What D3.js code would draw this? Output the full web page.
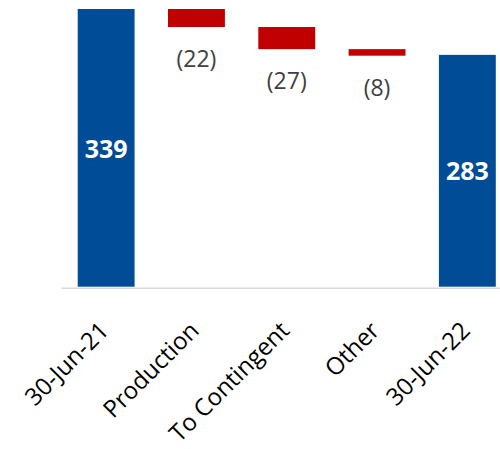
<!DOCTYPE html>
<html>
<head>
<meta charset="utf-8">
<script src="https://cdn.jsdelivr.net/npm/d3@7"></script>
<style>
  html, body { margin: 0; padding: 0; background: #fff; }
  svg { display: block; font-family: "Open Sans", "Noto Sans", sans-serif; }
</style>
</head>
<body>
<svg id="chart" width="500" height="449"></svg>
<script>
// Waterfall: opening balance, movements, closing balance
const categories = ["30-Jun-21", "Production", "To Contingent", "Other", "30-Jun-22"];
const values = [339, -22, -27, -8, 283];
const kinds = ["total", "delta", "delta", "delta", "total"];

const svg = d3.select("#chart");

const x = d3.scaleBand()
  .domain(categories)
  .range([61, 512.5])
  .paddingInner(0.37)
  .paddingOuter(0.185);

const y = d3.scaleLinear()
  .domain([0, 339])
  .range([286.7, 9]);

// Running totals for each step
let running = 0;
const bars = categories.map((c, i) => {
  let lo, hi;
  if (kinds[i] === "total") {
    running = values[i];
    lo = 0; hi = values[i];
  } else {
    const start = running;
    running = start + values[i];
    lo = Math.min(start, running); hi = Math.max(start, running);
  }
  return { cat: c, value: values[i], kind: kinds[i], lo, hi };
});

svg.selectAll("rect.bar")
  .data(bars)
  .join("rect")
  .attr("class", "bar")
  .attr("x", d => x(d.cat))
  .attr("width", x.bandwidth())
  .attr("y", d => y(d.hi))
  .attr("height", d => y(d.lo) - y(d.hi))
  .attr("fill", d => d.kind === "total" ? "#004C97" : "#C00000");

// Baseline axis
const axisG = svg.append("g").attr("transform", `translate(0,${y(0) + 1})`);
axisG.call(d3.axisBottom(x).tickSize(0).tickFormat(""));
axisG.select(".domain").attr("stroke", "#d9d9d9").attr("stroke-width", 1.6);

// Category labels, rotated
svg.selectAll("text.cat")
  .data(categories)
  .join("text")
  .attr("class", "cat")
  .attr("transform", c => `translate(${x(c) + x.bandwidth() / 2 + 4},${332}) rotate(-45)`)
  .attr("text-anchor", "end")
  .attr("font-size", 24)
  .attr("fill", "#000")
  .text(c => c);

// Value labels: totals inside, movements below
const fmt = v => v < 0 ? `(${Math.abs(v)})` : `${v}`;
svg.selectAll("text.val")
  .data(bars)
  .join("text")
  .attr("class", "val")
  .attr("x", d => x(d.cat) + x.bandwidth() / 2)
  .attr("y", d => d.kind === "total" ? (y(d.hi) + y(d.lo)) / 2 + 3 : y(d.lo) + 34)
  .attr("text-anchor", "middle")
  .attr("dominant-baseline", "middle")
  .attr("font-size", d => d.kind === "total" ? 25 : 23)
  .attr("font-weight", d => d.kind === "total" ? 700 : 400)
  .attr("fill", d => d.kind === "total" ? "#fff" : "#404040")
  .text(d => fmt(d.value));
</script>
</body>
</html>
